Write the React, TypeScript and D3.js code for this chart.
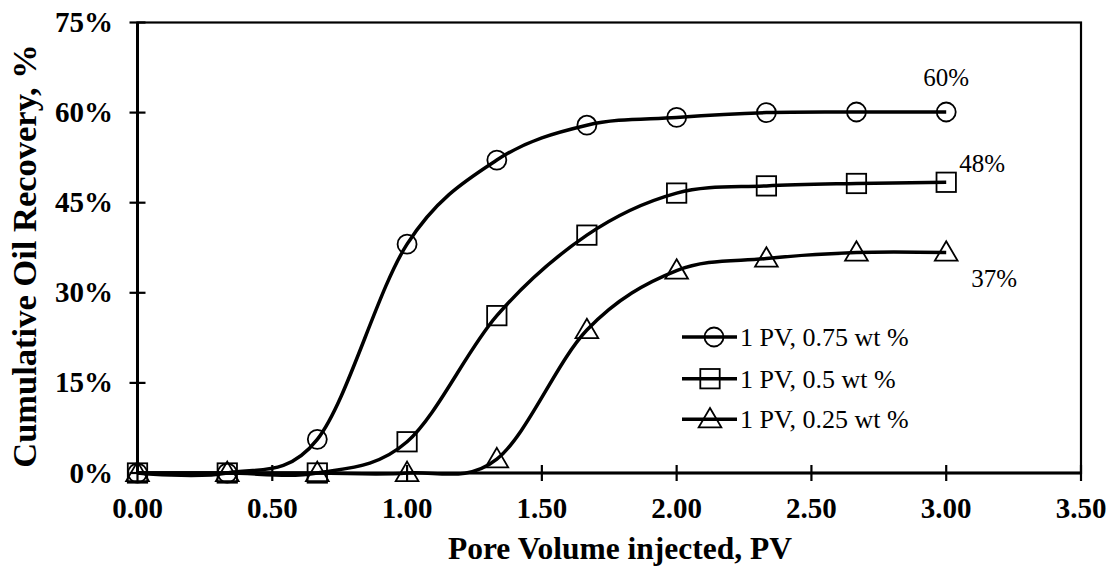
import React from "react";
import * as d3 from "d3";

const pv = [0, 0.333, 0.667, 1.0, 1.333, 1.667, 2.0, 2.333, 2.667, 3.0];
const rec075 = [0, 0, 5.6, 38.1, 52.1, 57.9, 59.2, 60.0, 60.1, 60.1];
const rec050 = [0, 0, 0, 5.2, 26.2, 39.6, 46.6, 47.8, 48.2, 48.4];
const rec025 = [0, 0, 0, 0, 2.3, 23.8, 33.7, 35.7, 36.7, 36.7];
const seriesNames = ["1 PV, 0.75 wt %", "1 PV, 0.5 wt %", "1 PV, 0.25 wt %"];
const markerShapes = ["circle", "square", "triangle"];
const endLabels = ["60%", "48%", "37%"];
const xTicks = [0, 0.5, 1.0, 1.5, 2.0, 2.5, 3.0, 3.5];
const yTicks = [0, 15, 30, 45, 60, 75];

const W = 1115;
const H = 567;
const M = { left: 137.5, right: 1081, top: 22.5, bottom: 473 };
const FONT = "'Times New Roman', 'Liberation Serif', serif";

function Marker({ shape, x, y }: { shape: string; x: number; y: number }) {
  const common = { fill: "none", stroke: "#000", strokeWidth: 1.8 };
  if (shape === "circle") return <circle cx={x} cy={y} r={9.5} {...common} />;
  if (shape === "square") return <rect x={x - 9.7} y={y - 9.7} width={19.4} height={19.4} {...common} />;
  const s = 10.8;
  return (
    <path
      d={`M${x},${y - s * 1.05} L${x + s * 1.05},${y + s * 0.75} L${x - s * 1.05},${y + s * 0.75} Z`}
      {...common}
    />
  );
}

export default function App() {
  const x = d3.scaleLinear().domain([0, 3.5]).range([M.left, M.right]);
  const y = d3.scaleLinear().domain([0, 75]).range([M.bottom, M.top]);
  const series = [rec075, rec050, rec025];
  const line = d3
    .line<number>()
    .x((_, i) => x(pv[i]))
    .y((d) => y(d))
    .curve(d3.curveCardinal.tension(0));

  const labelPos = [
    { dx: 0, dy: -26, anchor: "middle" },
    { dx: 13, dy: -10, anchor: "start" },
    { dx: 25, dy: 34, anchor: "start" },
  ];

  const legendX0 = 682;
  const legendX1 = 737;
  const legendMarkX = [714, 710, 710];
  const legendY = [337, 378.7, 419.3];

  return (
    <div style={{ position: "absolute", left: 0, top: 0 }}>
      <svg width={W} height={H} style={{ display: "block", background: "#fff" }} fontFamily={FONT}>
        <rect x={0} y={0} width={W} height={H} fill="#fff" />
        <rect
          x={M.left}
          y={M.top}
          width={M.right - M.left}
          height={M.bottom - M.top}
          fill="none"
          stroke="#000"
          strokeWidth={2.2}
        />
        <line x1={M.left} x2={M.left} y1={M.top} y2={M.bottom} stroke="#000" strokeWidth={3} />
        <line x1={M.left} x2={M.right} y1={M.bottom} y2={M.bottom} stroke="#000" strokeWidth={3} />
        {yTicks.map((t) => (
          <g key={"y" + t}>
            <line x1={M.left - 8} x2={M.left + 8} y1={y(t)} y2={y(t)} stroke="#000" strokeWidth={2.2} />
            <text x={113} y={y(t) + 9.5} textAnchor="end" fontWeight="bold" fontSize={29} fill="#000">
              {t + "%"}
            </text>
          </g>
        ))}
        {xTicks.map((t) => (
          <g key={"x" + t}>
            <line x1={x(t)} x2={x(t)} y1={M.bottom - 8} y2={M.bottom + 8} stroke="#000" strokeWidth={2.2} />
            <text x={x(t)} y={517.5} textAnchor="middle" fontWeight="bold" fontSize={29} fill="#000">
              {t.toFixed(2)}
            </text>
          </g>
        ))}
        <text x={620} y={559} textAnchor="middle" fontWeight="bold" fontSize={31.5} fill="#000">
          Pore Volume injected, PV
        </text>
        <text
          transform={`translate(36,256) rotate(-90)`}
          textAnchor="middle"
          fontWeight="bold"
          fontSize={34.5}
          fill="#000"
        >
          Cumulative Oil Recovery, %
        </text>

        {series.map((s, si) => (
          <path key={"l" + si} d={line(s) || ""} fill="none" stroke="#000" strokeWidth={3.5} />
        ))}
        {series.map((s, si) =>
          s.map((v, i) => <Marker key={`m${si}-${i}`} shape={markerShapes[si]} x={x(pv[i])} y={y(v)} />)
        )}

        {series.map((s, si) => (
          <text
            key={"e" + si}
            x={x(pv[pv.length - 1]) + labelPos[si].dx}
            y={y(s[s.length - 1]) + labelPos[si].dy}
            textAnchor={labelPos[si].anchor as any}
            fontSize={25}
            fill="#000"
          >
            {endLabels[si]}
          </text>
        ))}

        {seriesNames.map((n, i) => (
          <g key={"lg" + i}>
            <line x1={legendX0} x2={legendX1} y1={legendY[i]} y2={legendY[i]} stroke="#000" strokeWidth={3.5} />
            <Marker shape={markerShapes[i]} x={legendMarkX[i]} y={legendY[i]} />
            <text x={740} y={legendY[i] + 9} fontSize={26} fill="#000">
              {n}
            </text>
          </g>
        ))}
      </svg>
    </div>
  );
}
